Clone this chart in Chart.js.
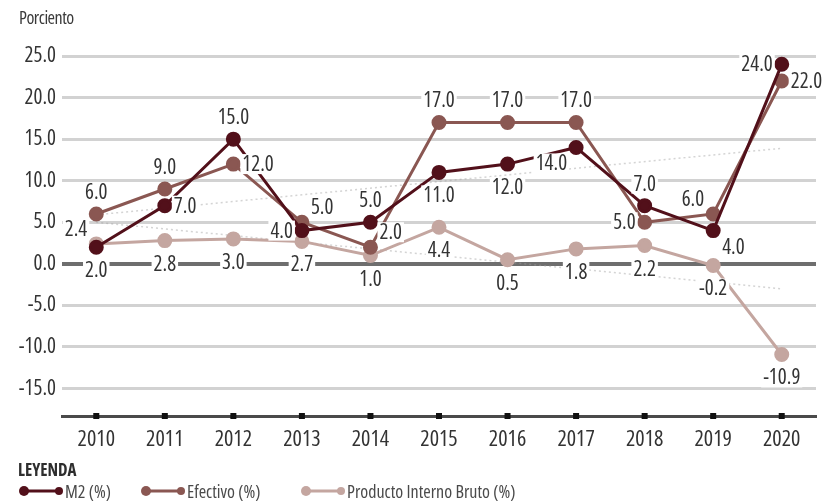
<!DOCTYPE html>
<html>
<head>
<meta charset="utf-8">
<script src="https://cdn.jsdelivr.net/npm/chart.js@4"></script>
<style>
  body { margin: 0; background: #fff; }
  #wrap { position: relative; width: 832px; height: 502px; font-family: "Open Sans", sans-serif; font-stretch: condensed; color: #333; }
  #titulo { position: absolute; left: 19px; top: 5px; font-size: 18px; color: #3a3a3a; letter-spacing: -0.5px; }
  #leyenda { position: absolute; left: 18px; top: 458px; font-size: 17px; font-weight: bold; color: #2e2e2e; }
  .item { position: absolute; top: 479px; font-size: 18px; color: #4a4a4a; display: flex; align-items: center; }
  .item svg { margin-right: 1px; }
</style>
</head>
<body>
<div id="wrap">
  <canvas id="grafico" width="832" height="502"></canvas>
  <div id="titulo">Porciento</div>
  <div id="leyenda">LEYENDA</div>
  <div class="item" style="left:18px"><svg width="46" height="14"><line x1="5" y1="7" x2="41" y2="7" stroke="#52101a" stroke-width="3"/><circle cx="6" cy="7" r="5" fill="#52101a"/><circle cx="41" cy="7" r="4" fill="#52101a"/></svg>M2 (%)</div>
  <div class="item" style="left:140px"><svg width="46" height="14"><line x1="5" y1="7" x2="41" y2="7" stroke="#8a5752" stroke-width="3"/><circle cx="6" cy="7" r="5" fill="#8a5752"/><circle cx="41" cy="7" r="4" fill="#8a5752"/></svg>Efectivo (%)</div>
  <div class="item" style="left:300px"><svg width="46" height="14"><line x1="5" y1="7" x2="41" y2="7" stroke="#c4a6a0" stroke-width="3"/><circle cx="6" cy="7" r="5" fill="#c4a6a0"/><circle cx="41" cy="7" r="4" fill="#c4a6a0"/></svg>Producto Interno Bruto (%)</div>
</div>
<script>
const years = ['2010', '2011', '2012', '2013', '2014', '2015', '2016', '2017', '2018', '2019', '2020'];
const m2 = [2.0, 7.0, 15.0, 4.0, 5.0, 11.0, 12.0, 14.0, 7.0, 4.0, 24.0];
const efectivo = [6.0, 9.0, 12.0, 5.0, 2.0, 17.0, 17.0, 17.0, 5.0, 6.0, 22.0];
const pib = [2.4, 2.8, 3.0, 2.7, 1.0, 4.4, 0.5, 1.8, 2.2, -0.2, -10.9];
const yTicks = [25, 20, 15, 10, 5, 0, -5, -10, -15];

// lineas de tendencia punteadas (solo extremos)
const m2Tendencia = [5.9, null, null, null, null, null, null, null, null, null, 13.9];
const pibTendencia = [5.0, null, null, null, null, null, null, null, null, null, -3.0];

// donde va cada etiqueta respecto al punto
const m2Pos = ['b', 'r', 't', 'l', 't', 'b', 'b', 'bl', 't', 'br', 'l'];
const efectivoPos = ['t', 't', 'r', 'tr', 'tr', 't', 't', 't', 'l', 'tl', 'r'];
const pibPos = ['tl', 'b', 'b', 'b', 'b', 'b', 'b', 'b', 'b', 'b', 'b'];

const fuente = '"Open Sans", sans-serif';

const etiquetasPlugin = {
    id: 'etiquetas',
    afterDatasetsDraw(chart) {
        const ctx = chart.ctx;
        ctx.save();
        ctx.font = 'normal 500 condensed 21px ' + fuente;
        ctx.textAlign = 'center';
        ctx.textBaseline = 'middle';
        chart.data.datasets.forEach((ds, i) => {
            if (!ds.posiciones) return;
            const meta = chart.getDatasetMeta(i);
            meta.data.forEach((pt, j) => {
                const txt = ds.data[j].toFixed(1);
                const w = ctx.measureText(txt).width;
                const p = ds.posiciones[j];
                let dx = 0, dy = 0;
                if (p.includes('l')) dx = -(w / 2 + 9);
                if (p.includes('r')) dx = w / 2 + 9;
                if (p === 't') dy = -22;
                if (p === 'b') dy = 23;
                if (p.length === 2) dy = p[0] === 't' ? -15 : 16;
                const x = pt.x + dx, y = pt.y + dy;
                ctx.fillStyle = '#fff';
                ctx.fillRect(x - w / 2 - 2, y - 10, w + 4, 20);
                ctx.fillStyle = '#333';
                ctx.fillText(txt, x, y + 1);
            });
        });
        ctx.restore();
    },
    afterDraw(chart) {
        // cuadritos negros sobre el eje x
        const ctx = chart.ctx;
        const xs = chart.scales.x;
        const bottom = chart.chartArea.bottom;
        ctx.save();
        ctx.fillStyle = '#111';
        years.forEach((y, i) => {
            const x = xs.getPixelForValue(i);
            ctx.fillRect(x - 3, bottom - 3, 6, 6);
        });
        ctx.restore();
    }
};

const ctx = document.getElementById('grafico').getContext('2d');
const grafico = new Chart(ctx, {
    type: 'line',
    data: {
        labels: years,
        datasets: [{
            label: 'M2 (%)',
            data: m2,
            posiciones: m2Pos,
            borderColor: '#52101a',
            backgroundColor: '#52101a',
            borderWidth: 3,
            pointRadius: 6,
            tension: 0
        }, {
            label: 'Efectivo (%)',
            data: efectivo,
            posiciones: efectivoPos,
            borderColor: '#8a5752',
            backgroundColor: '#8a5752',
            borderWidth: 3,
            pointRadius: 6,
            tension: 0
        }, {
            label: 'Producto Interno Bruto (%)',
            data: pib,
            posiciones: pibPos,
            borderColor: '#c4a6a0',
            backgroundColor: '#c4a6a0',
            borderWidth: 3,
            pointRadius: 6,
            tension: 0
        }, {
            label: 'tendencia M2',
            data: m2Tendencia,
            spanGaps: true,
            borderColor: 'rgba(160,160,160,0.45)',
            borderWidth: 1.5,
            borderDash: [2, 3],
            pointRadius: 0
        }, {
            label: 'tendencia PIB',
            data: pibTendencia,
            spanGaps: true,
            borderColor: 'rgba(160,160,160,0.45)',
            borderWidth: 1.5,
            borderDash: [2, 3],
            pointRadius: 0
        }]
    },
    options: {
        responsive: false,
        animation: false,
        layout: { padding: { left: 0, right: 16, top: 56, bottom: 46 } },
        plugins: { legend: { display: false }, tooltip: { enabled: false } },
        scales: {
            x: {
                offset: true,
                grid: { display: false },
                border: { display: true, color: '#4a4a4a', width: 3 },
                ticks: { color: '#333', font: { family: fuente, size: 22, weight: '500 condensed' }, padding: 3, maxRotation: 0 },
                afterFit: (s) => { s.height = 40; }
            },
            y: {
                min: -18.3,
                max: 25,
                afterBuildTicks: (s) => { s.ticks = yTicks.map(v => ({ value: v })); },
                afterFit: (s) => { s.width = 62; },
                grid: {
                    drawTicks: false,
                    color: (c) => c.tick && c.tick.value === 0 ? '#6e6e6e' : '#d2d2d2',
                    lineWidth: (c) => c.tick && c.tick.value === 0 ? 4 : 3
                },
                border: { display: false },
                ticks: {
                    color: '#333',
                    font: { family: fuente, size: 21, weight: '500 condensed' },
                    padding: 6,
                    callback: (v) => Number(v).toFixed(1)
                }
            }
        }
    },
    plugins: [etiquetasPlugin]
});
</script>
</body>
</html>
